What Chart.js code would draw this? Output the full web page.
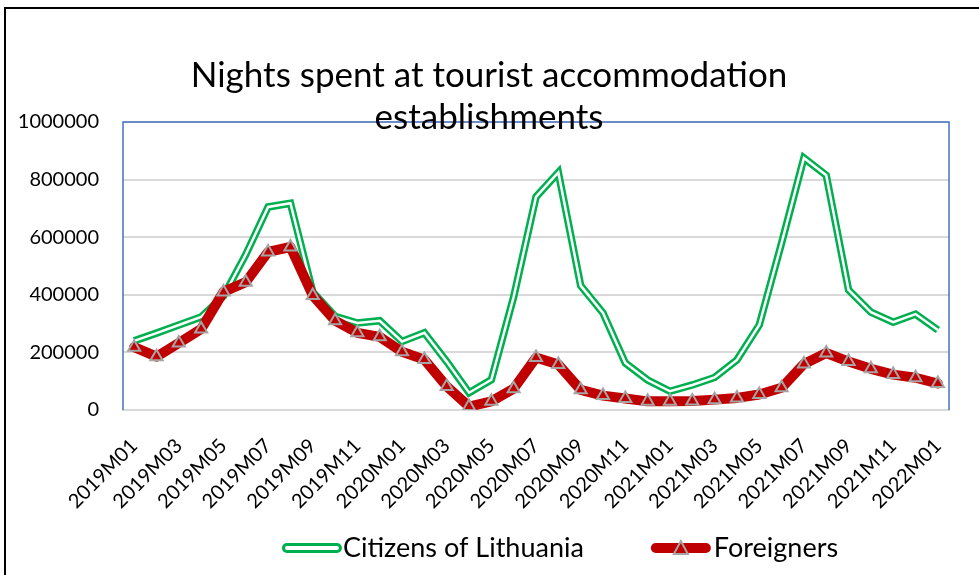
<!DOCTYPE html>
<html>
<head>
<meta charset="utf-8">
<script src="https://cdn.jsdelivr.net/npm/chart.js@4.4.1/dist/chart.umd.min.js"></script>
<style>
  html, body { margin: 0; padding: 0; background: #fff; }
  #wrap { width: 979px; height: 575px; }
</style>
</head>
<body>
<div id="wrap"><canvas id="chart" width="979" height="575"></canvas></div>
<script>
var months = [
    '2019M01', '2019M02', '2019M03', '2019M04', '2019M05', '2019M06', '2019M07', '2019M08', '2019M09', '2019M10', '2019M11', '2019M12',
    '2020M01', '2020M02', '2020M03', '2020M04', '2020M05', '2020M06', '2020M07', '2020M08', '2020M09', '2020M10', '2020M11', '2020M12',
    '2021M01', '2021M02', '2021M03', '2021M04', '2021M05', '2021M06', '2021M07', '2021M08', '2021M09', '2021M10', '2021M11', '2021M12',
    '2022M01'
];

var citizens = [
    240000, 267000, 295000, 323000, 395000, 540000, 705000, 718000, 410000, 325000, 302000, 310000,
    238000, 268000, 168000, 60000, 105000, 393000, 740000, 825000, 432000, 337000, 163000, 104000,
    65000, 87000, 113000, 174000, 295000, 580000, 875000, 815000, 417000, 340000, 305000, 333000,
    278000
];

var foreigners = [
    218000, 185000, 233000, 281000, 410000, 444000, 549000, 566000, 398000, 310000, 268000, 254000,
    202000, 175000, 82000, 12000, 30000, 74000, 182000, 158000, 70000, 50000, 40000, 30000,
    30000, 31000, 36000, 42000, 54000, 77000, 160000, 198000, 168000, 143000, 123000, 112000,
    92000
];

var yTicks = [0, 200000, 400000, 600000, 800000, 1000000];

var titleLines = ['Nights spent at tourist accommodation', 'establishments'];
var seriesNames = ['Citizens of Lithuania', 'Foreigners'];

var GREEN = '#00B050';
var RED = '#C00000';
var GRAY = '#A5A5A5';
var BLUE = '#4472C4';
var FONT = 'Lato';

// frame, plot border, title and legend
var decor = {
    id: 'decor',
    beforeDraw: (chart) => {
        let ctx = chart.ctx;
        ctx.save();
        ctx.fillStyle = '#fff';
        ctx.fillRect(0, 0, chart.width, chart.height);
        ctx.strokeStyle = '#000';
        ctx.lineWidth = 2;
        ctx.beginPath();
        ctx.moveTo(5, chart.height);
        ctx.lineTo(5, 8);
        ctx.lineTo(chart.width, 8);
        ctx.stroke();
        ctx.restore();
    },
    beforeDatasetsDraw: (chart) => {
        let ctx = chart.ctx;
        let a = chart.chartArea;
        ctx.save();
        ctx.strokeStyle = BLUE;
        ctx.lineWidth = 1.5;
        ctx.beginPath();
        ctx.moveTo(a.left, a.bottom);
        ctx.lineTo(a.left, a.top);
        ctx.lineTo(a.right, a.top);
        ctx.lineTo(a.right, a.bottom);
        ctx.stroke();
        ctx.restore();
    },
    afterDraw: (chart) => {
        let ctx = chart.ctx;
        ctx.save();
        ctx.fillStyle = '#000';
        ctx.textAlign = 'center';
        ctx.textBaseline = 'alphabetic';
        ctx.font = '35px ' + FONT;
        ctx.fillText(titleLines[0], 489, 87);
        ctx.fillText(titleLines[1], 489, 129);

        // legend
        ctx.font = '27px ' + FONT;
        ctx.textAlign = 'left';
        ctx.textBaseline = 'middle';
        let w1 = ctx.measureText(seriesNames[0]).width;
        let w2 = ctx.measureText(seriesNames[1]).width;
        let total = 60 + 1 + w1 + 67 + 60 + 3 + w2;
        let x = 560 - total / 2;
        let y = 548;

        ctx.lineCap = 'round';
        ctx.strokeStyle = GREEN;
        ctx.lineWidth = 10;
        ctx.beginPath();
        ctx.moveTo(x + 5, y);
        ctx.lineTo(x + 55, y);
        ctx.stroke();
        ctx.strokeStyle = '#fff';
        ctx.lineWidth = 4;
        ctx.beginPath();
        ctx.moveTo(x + 5, y);
        ctx.lineTo(x + 55, y);
        ctx.stroke();
        ctx.fillText(seriesNames[0], x + 61, y);

        x = x + 61 + w1 + 67;
        ctx.strokeStyle = RED;
        ctx.lineWidth = 10;
        ctx.beginPath();
        ctx.moveTo(x + 5, y);
        ctx.lineTo(x + 55, y);
        ctx.stroke();
        ctx.fillStyle = RED;
        ctx.strokeStyle = GRAY;
        ctx.lineWidth = 2;
        ctx.lineCap = 'butt';
        ctx.beginPath();
        ctx.moveTo(x + 30, y - 7);
        ctx.lineTo(x + 37, y + 6);
        ctx.lineTo(x + 23, y + 6);
        ctx.closePath();
        ctx.fill();
        ctx.stroke();
        ctx.fillStyle = '#000';
        ctx.fillText(seriesNames[1], x + 63, y);
        ctx.restore();
    }
};

var Ctx = document.getElementById('chart');
var Chart1 = new Chart(Ctx, {
    type: 'line',
    data: {
        labels: [...months],
        datasets: [{
            label: seriesNames[1],
            data: [...foreigners],
            borderColor: RED,
            borderWidth: 10,
            borderCapStyle: 'round',
            borderJoinStyle: 'round',
            pointStyle: 'triangle',
            pointRadius: 7,
            pointBackgroundColor: RED,
            pointBorderColor: GRAY,
            pointBorderWidth: 2,
            tension: 0,
            order: 0
        }, {
            // white core of the double green line
            label: 'core',
            data: [...citizens],
            borderColor: '#fff',
            borderWidth: 2.5,
            borderJoinStyle: 'miter',
            pointRadius: 0,
            tension: 0,
            order: 1
        }, {
            label: seriesNames[0],
            data: [...citizens],
            borderColor: GREEN,
            borderWidth: 7.5,
            borderJoinStyle: 'miter',
            pointRadius: 0,
            tension: 0,
            order: 2
        }]
    },
    options: {
        responsive: false,
        animation: false,
        layout: {
            padding: { top: 122, right: 12, bottom: 65, left: 0 }
        },
        plugins: {
            legend: { display: false },
            title: { display: false },
            tooltip: { enabled: false }
        },
        scales: {
            x: {
                offset: true,
                grid: { display: false, drawTicks: false },
                border: { display: true, color: '#D9D9D9', width: 2 },
                ticks: {
                    autoSkip: false,
                    minRotation: 45,
                    maxRotation: 45,
                    padding: 24,
                    color: '#000',
                    font: { family: FONT, size: 20 },
                    callback: (v, i) => (i % 2 === 0 ? months[i] : '')
                },
                afterFit: (scale) => { scale.height = 100; }
            },
            y: {
                min: 0,
                max: 1000000,
                afterBuildTicks: (scale) => { scale.ticks = yTicks.map(v => ({ value: v })); },
                grid: { color: '#D9D9D9', lineWidth: 2, drawTicks: false },
                border: { display: false },
                ticks: {
                    padding: 24,
                    color: '#000',
                    font: { family: FONT, size: 20 },
                    callback: (v) => String(v)
                },
                afterFit: (scale) => { scale.width = 123; }
            }
        }
    },
    plugins: [decor]
});
</script>
</body>
</html>
